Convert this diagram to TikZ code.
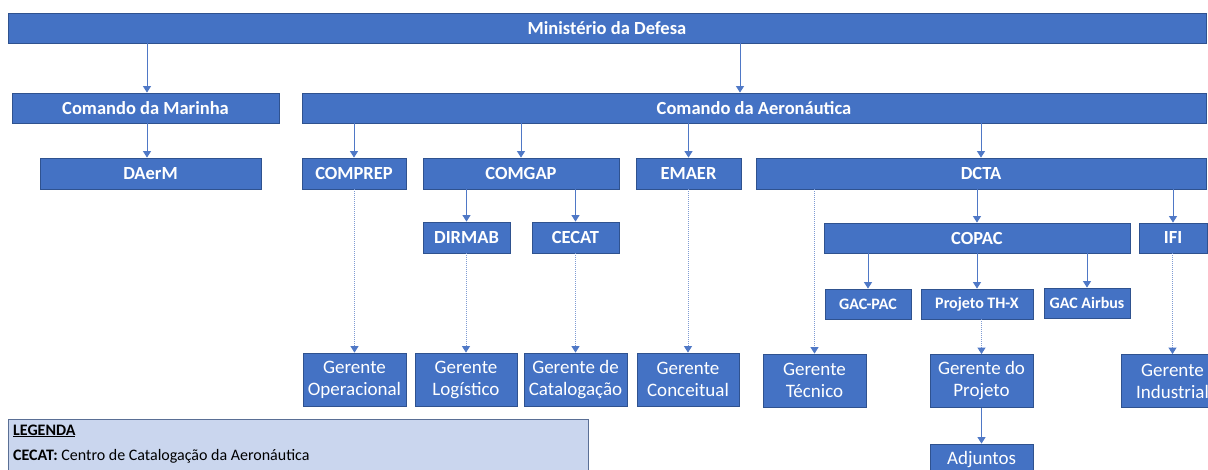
\documentclass[tikz,border=0pt]{standalone}
\usepackage{fontspec}
\setmainfont{Carlito}
\usetikzlibrary{arrows.meta}
\definecolor{boxblue}{HTML}{4472C4}
\definecolor{boxedge}{HTML}{2F528F}
\definecolor{lineblue}{HTML}{4F78C6}
\definecolor{dotblue}{HTML}{7F9BD3}
\definecolor{legfill}{HTML}{CAD6EE}
\definecolor{legedge}{HTML}{5A6F95}
\tikzset{
  box/.style={rectangle, fill=boxblue, draw=boxedge, line width=0.8pt, text=white,
    inner sep=0pt, align=center},
  bbox/.style={box, font=\bfseries\fontsize{18.5}{22}\selectfont},
  sbox/.style={box, font=\bfseries\fontsize{16}{20}\selectfont},
  gbox/.style={box, font=\fontsize{19}{22}\selectfont, minimum height=53pt},
  arr/.style={draw=lineblue, line width=0.9pt, -{Triangle[width=8pt,length=6.5pt]}},
  darr/.style={draw=dotblue, line width=1pt, dash pattern=on 1pt off 1pt, -{Triangle[width=8pt,length=6.5pt,color=lineblue,fill=lineblue]}},
}
\begin{document}
\begin{tikzpicture}[x=1pt,y=-1pt]
\useasboundingbox (0,0) rectangle (1208,470);
% legend
\node[draw=legedge, fill=legfill, line width=0.8pt, minimum width=580pt, minimum height=70pt, inner sep=0pt] (leg) at (298,454) {};
\node[anchor=base west, font=\fontsize{16}{20}\selectfont, inner sep=0pt] (legt) at (13,435) {\underline{\textbf{LEGENDA}}};
\node[anchor=base west, font=\fontsize{16}{20}\selectfont, inner sep=0pt] (legc) at (13,460) {\textbf{CECAT:} Centro de Catalogação da Aeronáutica};

% level 0
\node[bbox, minimum width=1198pt, minimum height=30pt] (md) at (607,28) {Ministério da Defesa};
% level 1
\node[bbox, minimum width=267pt, minimum height=30pt] (cm) at (145.5,108) {Comando da Marinha};
\node[bbox, minimum width=904pt, minimum height=30pt] (ca) at (754,108) {Comando da Aeronáutica};
% level 2
\node[bbox, minimum width=221pt, minimum height=31pt] (daerm) at (150.5,173.5) {DAerM};
\node[bbox, minimum width=104pt, minimum height=31pt] (comprep) at (354,173.5) {COMPREP};
\node[bbox, minimum width=196pt, minimum height=31pt] (comgap) at (521,173.5) {COMGAP};
\node[bbox, minimum width=105pt, minimum height=31pt] (emaer) at (688.5,173.5) {EMAER};
\node[bbox, minimum width=450pt, minimum height=31pt] (dcta) at (981,173.5) {DCTA};
% level 3
\node[bbox, minimum width=87pt, minimum height=31pt] (dirmab) at (466.5,237.5) {DIRMAB};
\node[bbox, minimum width=87pt, minimum height=31pt] (cecat) at (575.5,237.5) {CECAT};
\node[bbox, minimum width=306pt, minimum height=30pt] (copac) at (977,238) {COPAC};
\node[bbox, minimum width=68pt, minimum height=30pt] (ifi) at (1173,238) {IFI};
% level 4
\node[sbox, minimum width=86pt, minimum height=30pt] (gacpac) at (868,304) {GAC-PAC};
\node[sbox, minimum width=112pt, minimum height=30pt] (thx) at (977,304) {Projeto TH-X};
\node[sbox, minimum width=86pt, minimum height=30pt] (gacair) at (1087,303) {GAC Airbus};
% gerentes
\node[gbox, minimum width=103pt] (gop) at (354.5,379.5) {Gerente\\Operacional};
\node[gbox, minimum width=102pt] (glog) at (466,379.5) {Gerente\\Logístico};
\node[gbox, minimum width=103pt] (gcat) at (575.5,379.5) {Gerente de\\Catalogação};
\node[gbox, minimum width=102pt] (gcon) at (688,379.5) {Gerente\\Conceitual};
\node[gbox, minimum width=103pt] (gtec) at (814.5,380.5) {Gerente\\Técnico};
\node[gbox, minimum width=103pt] (gproj) at (981.5,381) {Gerente do\\Projeto};
\node[gbox, minimum width=103pt] (gind) at (1172.5,381) {Gerente\\Industrial};
\node[box, font=\fontsize{19}{22}\selectfont, minimum width=103pt, minimum height=32pt] (adj) at (981.5,460) {Adjuntos};

% connectors
\coordinate (xa) at (740,0);
\coordinate (xm) at (147,0);
\draw[arr] (md.south -| xm) -- (cm.north -| xm);
\draw[arr] (md.south -| xa) -- (ca.north -| xa);
\draw[arr] (cm.south -| xm) -- (daerm.north -| xm);
\draw[arr] (ca.south -| comprep) -- (comprep.north);
\draw[arr] (ca.south -| comgap) -- (comgap.north);
\draw[arr] (ca.south -| emaer) -- (emaer.north);
\draw[arr] (ca.south -| dcta) -- (dcta.north);
\draw[arr] (comgap.south -| dirmab) -- (dirmab.north);
\draw[arr] (comgap.south -| cecat) -- (cecat.north);
\draw[arr] (dcta.south -| copac) -- (copac.north);
\draw[arr] (dcta.south -| ifi) -- (ifi.north);
\draw[arr] (copac.south -| gacpac) -- (gacpac.north);
\draw[arr] (copac.south -| thx) -- (thx.north);
\draw[arr] (copac.south -| gacair) -- (gacair.north);
\draw[arr] (gproj.south) -- (adj.north);
\draw[darr] (comprep.south -| gop) -- (gop.north);
\draw[darr] (dirmab.south -| glog) -- (glog.north);
\draw[darr] (cecat.south -| gcat) -- (gcat.north);
\draw[darr] (emaer.south -| gcon) -- (gcon.north);
\draw[darr] (dcta.south -| gtec) -- (gtec.north);
\draw[darr] (thx.south -| gproj) -- (gproj.north);
\draw[darr] (ifi.south -| gind) -- (gind.north);
\end{tikzpicture}
\end{document}
